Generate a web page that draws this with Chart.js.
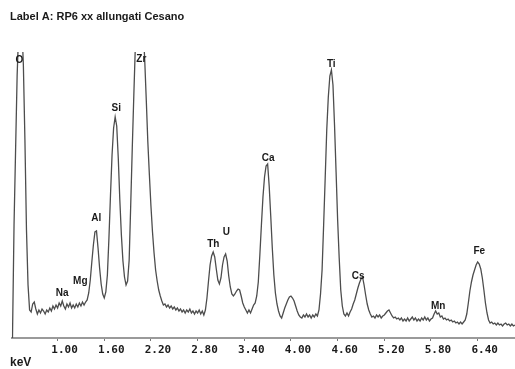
<!DOCTYPE html>
<html>
<head>
<meta charset="utf-8">
<script src="https://cdn.jsdelivr.net/npm/chart.js@4/dist/chart.umd.min.js"></script>
<style>
  html, body { margin: 0; padding: 0; background: #ffffff; }
  #c { display: block; }
</style>
</head>
<body>
<canvas id="c" width="515" height="369"></canvas>
<script>
// ---- data ----
const chartTitle = "Label A: RP6 xx allungati Cesano";
const axisLabel = "keV";
const tickValues = [1.00, 1.60, 2.20, 2.80, 3.40, 4.00, 4.60, 5.20, 5.80, 6.40];

// channel energies (keV)
const energy = [
0.42,0.44,0.46,0.48,0.50,0.52,0.54,0.56,0.58,0.60,0.62,0.64,0.66,0.68,0.70,0.72,0.74,0.76,0.78,0.80,
0.82,0.84,0.86,0.88,0.90,0.92,0.94,0.96,0.98,1.00,1.02,1.04,1.06,1.08,1.10,1.12,1.14,1.16,1.18,1.20,
1.22,1.24,1.26,1.28,1.30,1.32,1.34,1.36,1.38,1.40,1.42,1.44,1.46,1.48,1.50,1.52,1.54,1.56,1.58,1.60,
1.62,1.64,1.66,1.68,1.70,1.72,1.74,1.76,1.78,1.80,1.82,1.84,1.86,1.88,1.90,1.92,1.94,1.96,1.98,2.00,
2.02,2.04,2.06,2.08,2.10,2.12,2.14,2.16,2.18,2.20,2.22,2.24,2.26,2.28,2.30,2.32,2.34,2.36,2.38,2.40,
2.42,2.44,2.46,2.48,2.50,2.52,2.54,2.56,2.58,2.60,2.62,2.64,2.66,2.68,2.70,2.72,2.74,2.76,2.78,2.80,
2.82,2.84,2.86,2.88,2.90,2.92,2.94,2.96,2.98,3.00,3.02,3.04,3.06,3.08,3.10,3.12,3.14,3.16,3.18,3.20,
3.22,3.24,3.26,3.28,3.30,3.32,3.34,3.36,3.38,3.40,3.42,3.44,3.46,3.48,3.50,3.52,3.54,3.56,3.58,3.60,
3.62,3.64,3.66,3.68,3.70,3.72,3.74,3.76,3.78,3.80,3.82,3.84,3.86,3.88,3.90,3.92,3.94,3.96,3.98,4.00,
4.02,4.04,4.06,4.08,4.10,4.12,4.14,4.16,4.18,4.20,4.22,4.24,4.26,4.28,4.30,4.32,4.34,4.36,4.38,4.40,
4.42,4.44,4.46,4.48,4.50,4.52,4.54,4.56,4.58,4.60,4.62,4.64,4.66,4.68,4.70,4.72,4.74,4.76,4.78,4.80,
4.82,4.84,4.86,4.88,4.90,4.92,4.94,4.96,4.98,5.00,5.02,5.04,5.06,5.08,5.10,5.12,5.14,5.16,5.18,5.20,
5.22,5.24,5.26,5.28,5.30,5.32,5.34,5.36,5.38,5.40,5.42,5.44,5.46,5.48,5.50,5.52,5.54,5.56,5.58,5.60,
5.62,5.64,5.66,5.68,5.70,5.72,5.74,5.76,5.78,5.80,5.82,5.84,5.86,5.88,5.90,5.92,5.94,5.96,5.98,6.00,
6.02,6.04,6.06,6.08,6.10,6.12,6.14,6.16,6.18,6.20,6.22,6.24,6.26,6.28,6.30,6.32,6.34,6.36,6.38,6.40,
6.42,6.44,6.46,6.48,6.50,6.52,6.54,6.56,6.58,6.60,6.62,6.64,6.66,6.68,6.70,6.72,6.74,6.76,6.78,6.80,
6.82,6.84,6.86,6.88
];

// counts per channel
const counts = [
0,1130,1880,2630,3080,3180,3130,2730,1980,1080,530,280,260,340,360,290,240,280,250,290,
270,240,280,260,300,270,320,290,330,300,350,320,370,320,290,340,310,350,300,330,
300,340,310,350,320,360,330,360,380,450,580,760,930,1060,1070,900,700,540,440,400,
460,630,1000,1430,1830,2100,2210,2120,1800,1380,1030,770,610,530,570,780,1330,1900,2430,2930,
3160,3230,3240,3200,3100,2780,2380,1960,1630,1320,1060,850,680,570,480,420,370,330,340,310,
330,300,320,290,310,280,300,270,290,260,280,250,280,260,290,250,270,240,270,250,
280,240,270,230,280,400,570,730,820,860,810,690,580,540,600,730,810,840,770,620,
510,440,420,440,470,490,480,420,350,310,280,250,280,250,290,330,350,420,560,830,
1130,1410,1610,1720,1740,1520,1220,900,630,450,340,270,220,200,250,300,340,380,410,420,
400,370,320,270,230,210,200,230,210,240,210,230,200,230,210,240,220,280,440,680,
1130,1600,2080,2410,2620,2680,2530,2130,1660,1180,800,480,320,240,220,250,220,260,290,340,
380,440,500,550,590,610,530,430,340,280,240,210,220,200,230,210,230,200,220,230,
250,270,280,250,220,200,210,190,200,180,200,170,190,170,200,170,190,210,180,200,
170,190,170,200,180,210,180,200,170,190,200,240,270,240,250,210,220,190,200,180,
190,170,180,160,170,150,160,140,160,140,160,180,240,350,470,560,630,680,730,760,
740,690,600,480,350,250,180,150,160,140,150,130,150,130,140,120,140,150,130,140,
120,140,120,130
];

// element labels: name, energy (keV), label height (counts)
const peakNames  = ["O", "Na", "Mg", "Al", "Si", "Zr", "Th", "U", "Ca", "Ti", "Cs", "Mn", "Fe"];
const peakEnergy = [0.508, 1.060, 1.292, 1.497, 1.754, 2.076, 3.001, 3.168, 3.708, 4.518, 4.865, 5.893, 6.420];
const peakHeight = [2780, 450, 570, 1200, 2300, 2790, 940, 1060, 1800, 2740, 620, 320, 870];

const xMin = 0.41, xMax = 6.88, yMax = 2860;

const points = energy.map((e, i) => ({ x: e, y: counts[i] }));

const textPlugin = {
  id: 'texts',
  afterDatasetsDraw(chart) {
    const ctx = chart.ctx;
    const xs = chart.scales.x, ys = chart.scales.y;
    ctx.save();
    ctx.fillStyle = '#1a1a1a';
    ctx.font = 'bold 10px "Liberation Sans", Arial, sans-serif';
    ctx.textAlign = 'center';
    ctx.textBaseline = 'middle';
    peakNames.forEach((n, i) => {
      ctx.fillText(n, xs.getPixelForValue(peakEnergy[i]), ys.getPixelForValue(peakHeight[i]));
    });
    ctx.restore();
  },
  afterDraw(chart) {
    const ctx = chart.ctx;
    ctx.save();
    ctx.fillStyle = '#1a1a1a';
    ctx.textAlign = 'left';
    ctx.textBaseline = 'middle';
    ctx.font = 'bold 11px "Liberation Sans", Arial, sans-serif';
    ctx.fillText(chartTitle, 10, 17);
    ctx.font = 'bold 12px "Liberation Sans", Arial, sans-serif';
    ctx.fillText(axisLabel, 10, 363);
    ctx.restore();
  }
};

new Chart(document.getElementById('c'), {
  type: 'line',
  data: {
    datasets: [{
      data: points,
      borderColor: '#4d4d4d',
      borderWidth: 1.3,
      pointRadius: 0,
      tension: 0,
      fill: false
    }]
  },
  options: {
    responsive: false,
    animation: false,
    devicePixelRatio: 1,
    layout: { padding: { top: 52, left: 11.7, right: 0, bottom: 0 } },
    plugins: { legend: { display: false }, title: { display: false }, tooltip: { enabled: false } },
    scales: {
      x: {
        type: 'linear',
        min: xMin,
        max: xMax,
        afterBuildTicks(scale) { scale.ticks = tickValues.map(v => ({ value: v })); },
        afterFit(scale) { scale.height = 31; },
        border: { display: true, color: '#9a9a9a', width: 2 },
        grid: { drawOnChartArea: false, drawTicks: true, tickLength: 3, color: '#777' },
        ticks: {
          autoSkip: false,
          maxRotation: 0,
          padding: 3,
          labelOffset: 7,
          color: '#1a1a1a',
          font: { family: '"DejaVu Sans Mono", monospace', size: 11, weight: 'bold' },
          callback: (v) => Number(v).toFixed(2)
        }
      },
      y: {
        display: false,
        min: 0,
        max: yMax
      }
    }
  },
  plugins: [textPlugin]
});
</script>
</body>
</html>
